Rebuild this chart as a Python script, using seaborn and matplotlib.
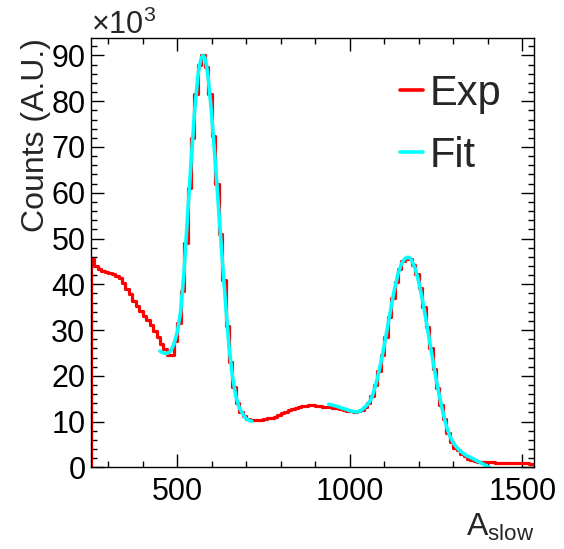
import numpy as np
import pandas as pd
import matplotlib
matplotlib.use("Agg")
import matplotlib.pyplot as plt
import seaborn as sns
from matplotlib.lines import Line2D
from matplotlib.ticker import MultipleLocator

# measured spectrum, counts in units of 10^3, 10-wide bins starting at 250
bin_start = 250
bin_width = 10
exp_counts = [
    45.5, 44.0, 43.4, 43.0, 42.7, 42.5, 42.2, 41.9, 41.3, 40.3,   # 250-340
    39.0, 37.8, 36.4, 35.2, 34.1, 33.0, 32.2, 31.1, 29.8, 28.4,   # 350-440
    27.0, 25.8, 24.5, 24.6, 27.6, 31.5, 38.5, 49.0, 61.0, 72.0,   # 450-540
    81.5, 88.0, 90.0, 87.5, 81.5, 72.5, 62.0, 51.0, 41.0, 31.0,   # 550-640
    23.0, 17.5, 14.0, 12.2, 11.2, 10.6, 10.3, 10.3, 10.3, 10.4,   # 650-740
    10.5, 10.7, 10.9, 11.1, 11.4, 11.8, 12.2, 12.5, 12.8, 13.0,   # 750-840
    13.2, 13.4, 13.5, 13.6, 13.6, 13.5, 13.4, 13.3, 13.2, 13.1,   # 850-940
    13.0, 12.9, 12.8, 12.6, 12.4, 12.3, 12.2, 12.3, 12.6, 13.2,   # 950-1040
    14.0, 15.6, 18.1, 21.1, 24.6, 28.5, 32.8, 37.0, 40.6, 43.4,   # 1050-1140
    45.0, 45.8, 45.6, 44.3, 42.2, 39.2, 35.0, 30.6, 26.1, 21.6,   # 1150-1240
    17.4, 13.7, 10.5, 7.6, 5.6, 4.3, 3.8, 3.0, 2.4, 1.9,          # 1250-1340
    1.6, 1.4, 1.25, 1.2, 1.15, 1.1, 1.1, 1.05, 1.05, 1.0,         # 1350-1440
    1.0, 1.0, 0.95, 0.95, 0.9, 0.9, 0.9, 0.85, 0.85,              # 1450-1530
]

# fit curve, drawn in two ranges
fit1_x = [450, 460, 470, 480, 490, 500, 510, 520, 530, 540, 550, 560, 565,
          570, 575, 580, 585, 590, 600, 610, 620, 630, 640, 650, 660, 670,
          680, 690, 700, 710, 716]
fit1_y = [25.4, 25.0, 24.9, 25.3, 26.8, 29.5, 34.0, 43.0, 55.0, 66.5, 77.5,
          85.5, 88.0, 89.5, 90.0, 89.5, 87.8, 85.0, 77.0, 67.0, 56.5, 46.0,
          36.0, 26.5, 20.0, 15.5, 13.0, 11.7, 10.6, 10.2, 10.1]
fit2_x = [939, 950, 960, 970, 980, 990, 1000, 1010, 1020, 1030, 1040, 1050,
          1060, 1070, 1080, 1090, 1100, 1110, 1120, 1130, 1140, 1150, 1160,
          1165, 1170, 1175, 1180, 1190, 1200, 1210, 1220, 1230, 1240, 1250,
          1260, 1270, 1280, 1290, 1300, 1310, 1320, 1330, 1340, 1350, 1360,
          1370, 1380, 1390, 1405]
fit2_y = [13.8, 13.6, 13.4, 13.15, 12.9, 12.65, 12.4, 12.2, 12.1, 12.3, 12.9,
          13.6, 14.6, 16.6, 19.4, 22.8, 26.6, 30.8, 35.0, 39.0, 42.3, 44.5,
          45.6, 45.85, 45.9, 45.7, 45.2, 43.4, 40.6, 37.0, 32.7, 28.3, 23.8,
          19.5, 15.6, 12.1, 9.1, 6.9, 5.4, 4.4, 3.6, 3.0, 2.5, 2.2, 1.8, 1.4,
          1.0, 0.6, 0.0]

sns.set_theme(style="ticks")
plt.rcParams["font.family"] = ["Liberation Sans", "DejaVu Sans"]
plt.rcParams["mathtext.default"] = "regular"

edges = [bin_start + bin_width * i for i in range(len(exp_counts) + 1)]
df = pd.DataFrame({"A_slow": edges[:-1], "counts": exp_counts})

fig = plt.figure(figsize=(5.64, 5.49), dpi=100)
ax = fig.add_axes([0.1613, 0.1486, 0.7860, 0.7813])

sns.histplot(data=df, x="A_slow", weights="counts", bins=edges,
             element="step", fill=False, color="red", linewidth=2.3, ax=ax)
# ROOT draws the first bin edge from zero
ax.vlines(edges[0], 0, exp_counts[0], color="red", linewidth=2.3)
sns.lineplot(x=fit1_x, y=fit1_y, color="cyan", linewidth=2.6, ax=ax)
sns.lineplot(x=fit2_x, y=fit2_y, color="cyan", linewidth=2.6, ax=ax)

ax.set_xlim(250, 1535)
ax.set_ylim(0, 93.7)
ax.xaxis.set_major_locator(MultipleLocator(500))
ax.xaxis.set_minor_locator(MultipleLocator(100))
ax.yaxis.set_major_locator(MultipleLocator(10))
ax.yaxis.set_minor_locator(MultipleLocator(2))
ax.tick_params(which="both", direction="in", top=True, right=True,
               colors="black", width=1.0)
ax.tick_params(which="major", length=9.2, labelsize=22)
ax.tick_params(which="minor", length=4.6)
ax.tick_params(axis="x", which="major", pad=7)
ax.tick_params(axis="y", which="major", pad=4)
for s in ax.spines.values():
    s.set_linewidth(1.0)
    s.set_color("black")

ax.set_xlabel("A$_{slow}$", fontsize=23, loc="right")
ax.xaxis.set_label_coords(1.0, -0.104)
ax.set_ylabel("Counts (A.U.)", fontsize=23, loc="top")
ax.yaxis.set_label_coords(-0.09, 1.0)
ax.text(0.0, 0.995, r"$\times10^{3}$", transform=ax.transAxes,
        fontsize=22, ha="left", va="bottom")

handles = [Line2D([], [], color="red", linewidth=2.6),
           Line2D([], [], color="cyan", linewidth=2.6)]
ax.legend(handles, ["Exp", "Fit"], loc="upper left",
          bbox_to_anchor=(400 / 564, 1 - 74 / 549),
          bbox_transform=fig.transFigure, frameon=False, fontsize=30,
          handlelength=0.55, handletextpad=0.15, labelspacing=0.52,
          borderpad=0, borderaxespad=0)

fig.savefig("out.png", dpi=100)
